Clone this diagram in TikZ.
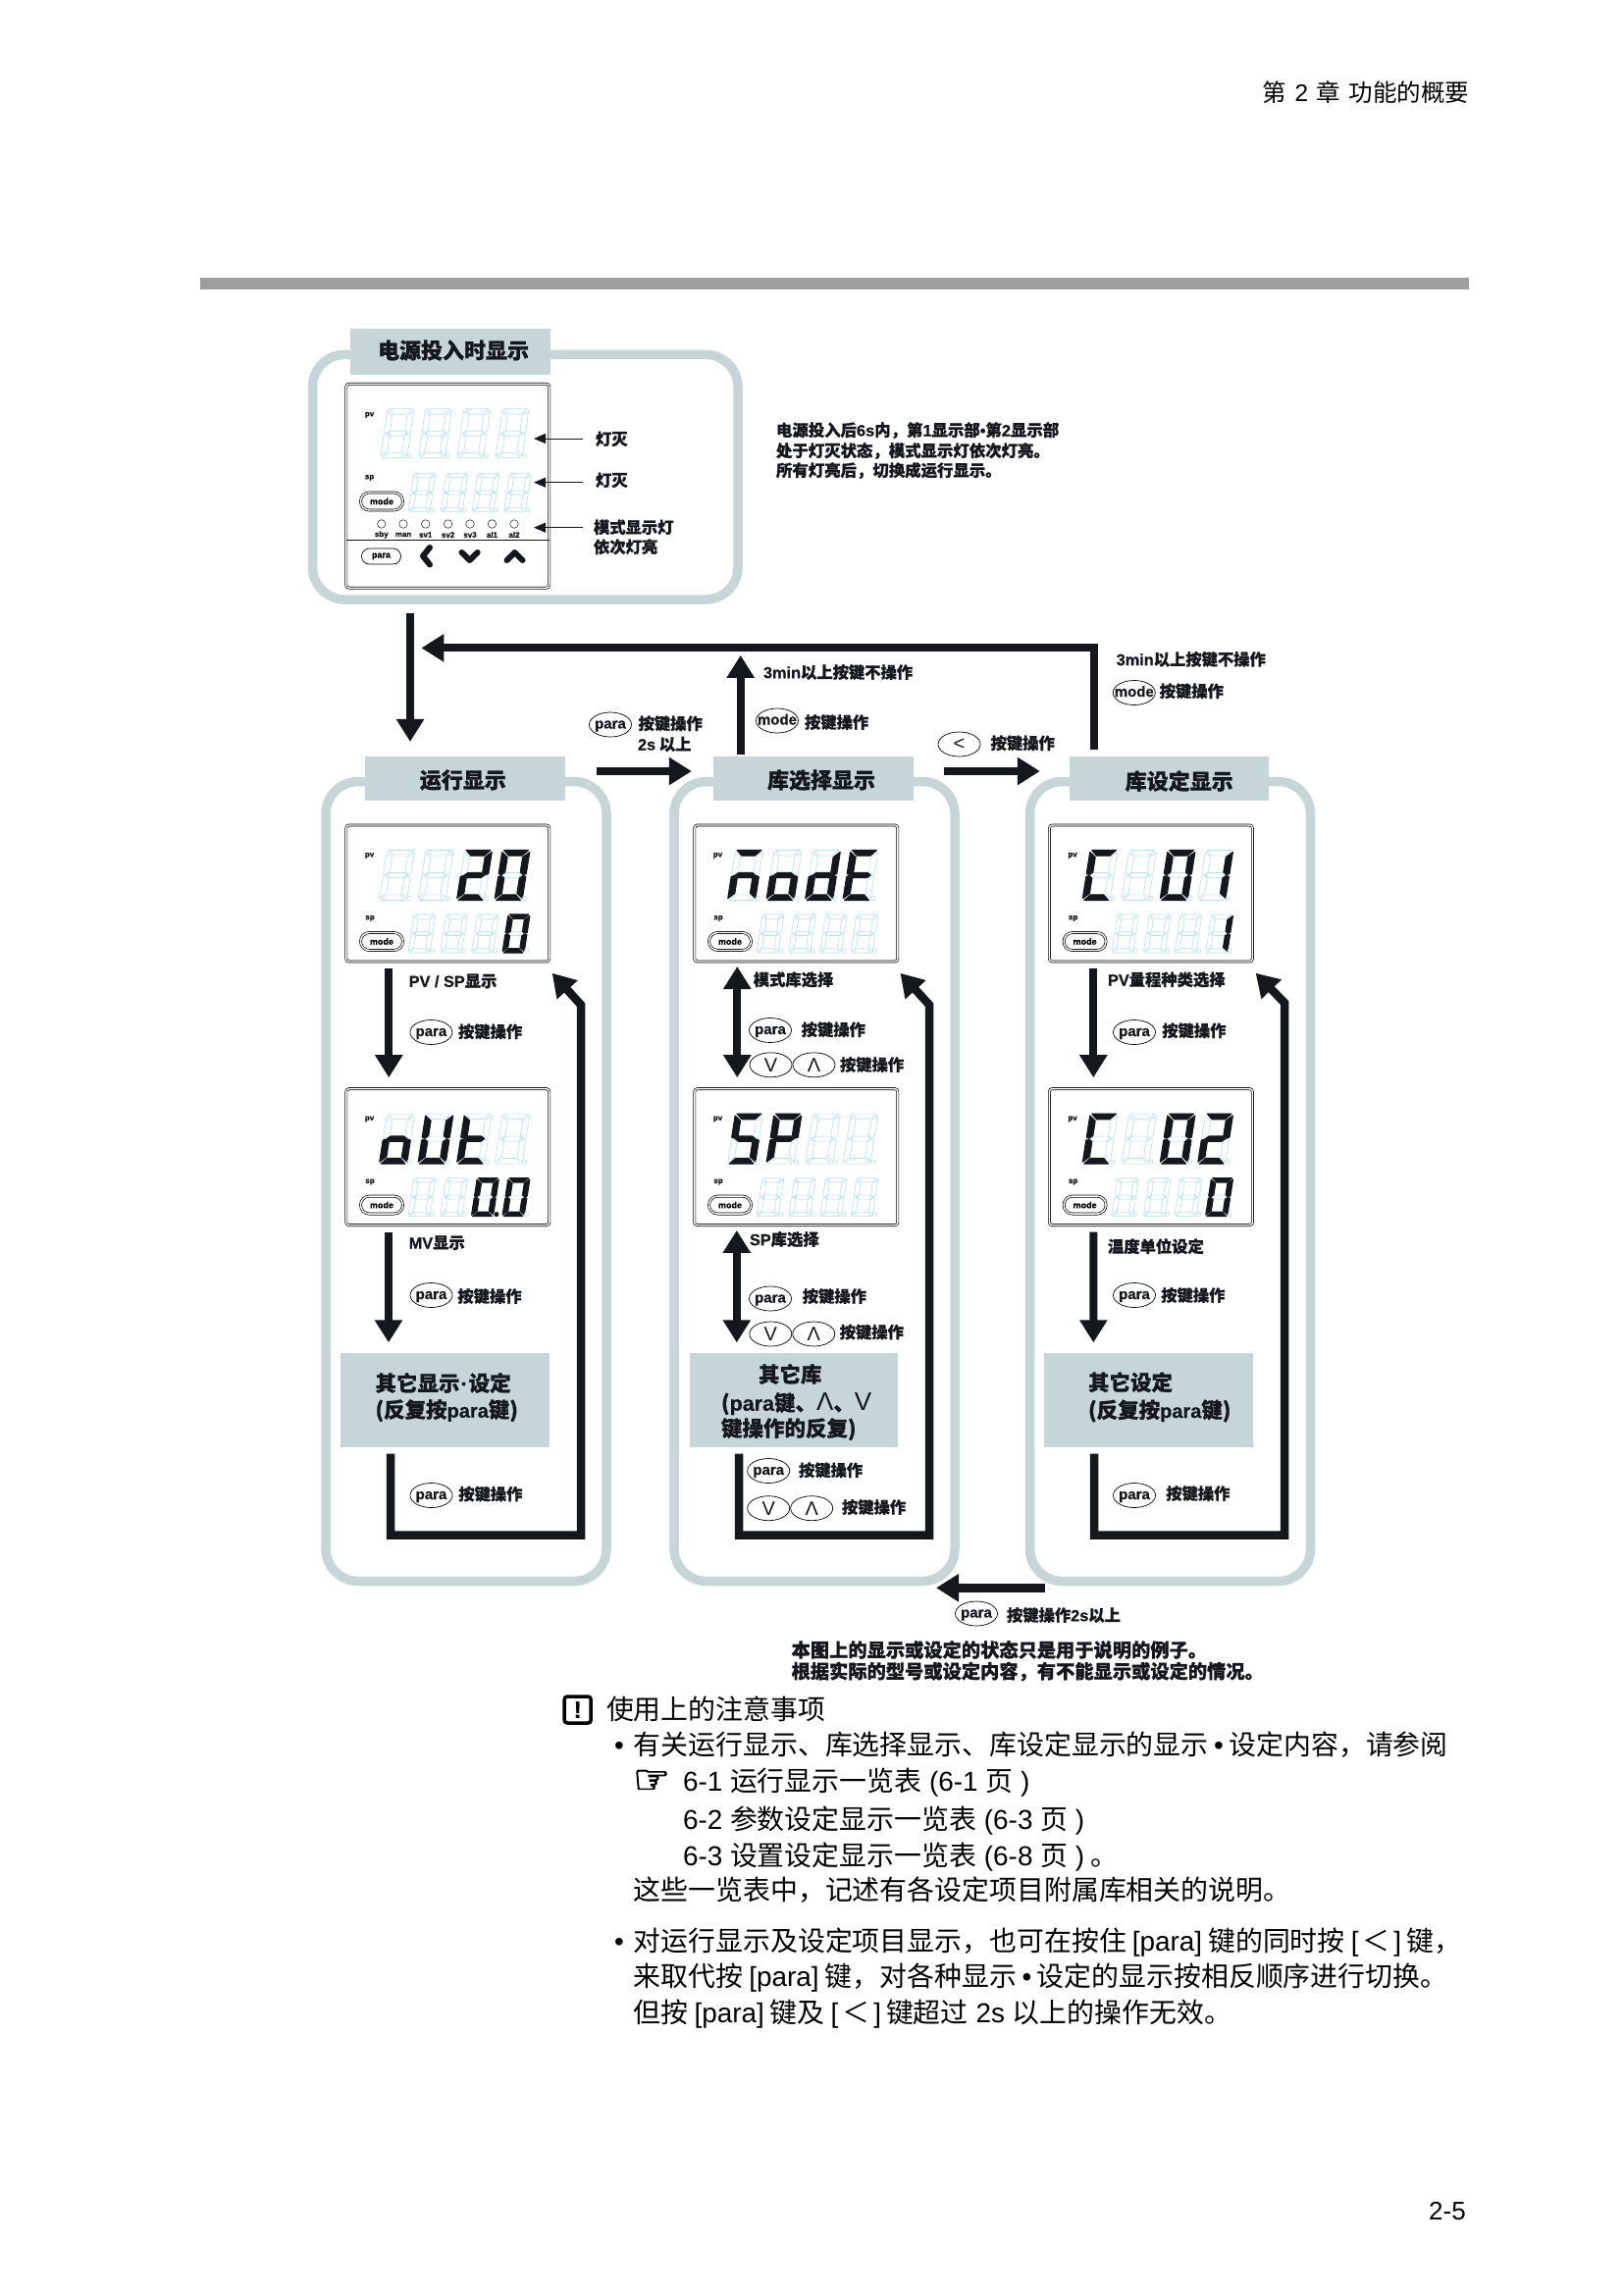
\documentclass[tikz,border=0pt]{standalone}
\usepackage{fontspec}
\usetikzlibrary{arrows.meta,shapes.geometric}
\setmainfont{Noto Sans CJK SC}[BoldFeatures={FakeBold=0.8}]
\newfontfamily\latn{Liberation Sans}[BoldFeatures={FakeBold=0.6}]
\newfontfamily\dejav{DejaVu Sans}[FakeBold=2.5]
\definecolor{band}{HTML}{C5D5D8}
\definecolor{ghostc}{HTML}{B4E2E8}
\definecolor{ink}{HTML}{14181C}
\definecolor{rule}{HTML}{9E9E9E}
\newcommand\fs[1]{\fontsize{#1}{#1}\selectfont}
\newcounter{nn}
\tikzset{
  x=1pt,y=-1pt,
  ghost/.style={draw=ghostc,line width=.6pt,fill=white},
  lit/.style={fill=ink,draw=ink,line width=1.2pt,line join=round},
  lab/.style={anchor=west,inner sep=0,outer sep=0,font=\bfseries\fs{16.3},text=ink,text height=14pt,text depth=3pt},
  midlab/.style={anchor=center,inner sep=0,outer sep=0,font=\bfseries\fs{22},text=ink},
  boxlab/.style={anchor=west,inner sep=0,outer sep=0,font=\bfseries\fs{21.5},text=ink,text height=18pt,text depth=4pt},
  bodyt/.style={anchor=west,inner sep=0,outer sep=0,font=\fs{27.9},text=black,text height=24pt,text depth=5pt},
  frameb/.style={draw=band,line width=9.5pt,rounded corners=33pt,inner sep=0,outer sep=0},
  titleb/.style={fill=band,inner sep=0,outer sep=0},
  dispb/.style={draw=black,line width=.7pt,double,double distance=1.4pt,rounded corners=3pt,inner sep=0,outer sep=0,minimum width=207,minimum height=139},
  modeb/.style={draw=black,line width=.7pt,double,double distance=1.4pt,rounded corners=9pt,inner sep=0,outer sep=0,minimum width=43,minimum height=18,font=\bfseries\latn\fs{9}},
  btn/.style={ellipse,draw=black,line width=.7pt,fill=white,inner xsep=-8pt,inner ysep=-3pt,outer sep=0,minimum width=43,minimum height=25,font=\bfseries\latn\fs{15},text=ink,text height=8pt,text depth=0pt},
  thinbtn/.style={ellipse,draw=black,line width=.7pt,fill=white,inner sep=-3pt,outer sep=0,minimum width=43,minimum height=25,font=\latn\fs{20},text=ink},
  tiny/.style={inner sep=0,outer sep=0,font=\bfseries\latn\fs{8},text=ink},
  bigarrow/.style={draw=ink,line width=8pt,-{Triangle[width=27pt,length=23pt]},line join=miter},
  bothway/.style={draw=ink,line width=8pt,{Triangle[width=27pt,length=23pt]}-{Triangle[width=27pt,length=23pt]}},
  thinarrow/.style={draw=ink,line width=1pt,-{Triangle[width=10pt,length=12pt]}},
}
\def\sgA#1{\path[#1] (.06,1)--(.94,1)--(.74,.89)--(.26,.89)--cycle;}
\def\sgD#1{\path[#1] (.06,0)--(.94,0)--(.74,.11)--(.26,.11)--cycle;}
\def\sgF#1{\path[#1] (0,.96)--(.22,.86)--(.22,.56)--(.1,.51)--(0,.53)--cycle;}
\def\sgB#1{\path[#1] (1,.96)--(.78,.86)--(.78,.56)--(.9,.51)--(1,.53)--cycle;}
\def\sgE#1{\path[#1] (0,.04)--(.22,.14)--(.22,.44)--(.1,.49)--(0,.47)--cycle;}
\def\sgC#1{\path[#1] (1,.04)--(.78,.14)--(.78,.44)--(.9,.49)--(1,.47)--cycle;}
\def\sgG#1{\path[#1] (.14,.5)--(.26,.55)--(.74,.55)--(.86,.5)--(.74,.45)--(.26,.45)--cycle;}
\def\sgN#1{}
\def\dOff{N}
\def\dZero{A,B,C,D,E,F}
\def\dOne{B,C}
\def\dTwo{A,B,G,E,D}
\def\dLo{G,C,D,E}
\def\dU{B,C,D,E,F}
\def\dT{F,G,E,D}
\def\dM{A,E,C,G}
\def\dd{B,C,D,E,G}
\def\dEe{A,F,G,E,D}
\def\dS{A,F,G,C,D}
\def\dP{A,B,F,G,E}
\def\dCc{A,F,E,D}
% one digit: x, top y, width, height, slant, lit segments
\newcommand\dgt[6]{%
  \begin{scope}[shift={(#1,#2+#4)},x={(#3pt,0pt)},y={(#5pt,#4pt)}]
    \foreach \s in {A,B,C,D,E,F,G}{\csname sg\s\endcsname{ghost}}
    \foreach \s in #6{\csname sg\s\endcsname{lit}}
  \end{scope}
  \draw[draw=ghostc,line width=.6pt] (#1+#3+2.5,#2+#4-2) circle[radius=2.2pt];
}
\newcommand\uprow[4]{%
  \dgt{386.5}{866.5}{28}{51}{8}{#1}\dgt{426}{866.5}{28}{51}{8}{#2}%
  \dgt{465.5}{866.5}{28}{51}{8}{#3}\dgt{504}{866.5}{28}{51}{8}{#4}}
\newcommand\lowrow[4]{%
  \dgt{416}{932}{22}{39}{6}{#1}\dgt{448.6}{932}{22}{39}{6}{#2}%
  \dgt{480.4}{932}{22}{39}{6}{#3}\dgt{512}{932}{22}{39}{6}{#4}}
\newcommand\dispbox[1]{%
  \node[dispb] (#1) at (456.3,910.5) {};
  \node[tiny] (#1pv) at (376.5,872) {pv};
  \node[tiny] (#1sp) at (377,936) {sp};
  \node[modeb] (#1m) at (389,959.5) {mode};
}
\newcommand\lab[3]{\stepcounter{nn}\node[lab] (lab\arabic{nn}) at (#1,#2) {#3};}
\newcommand\btn[3]{\stepcounter{nn}\node[btn] (btn\arabic{nn}) at (#1,#2) {#3};}
\newcommand\va[2]{\stepcounter{nn}\node[thinbtn] (vb\arabic{nn}) at (#1,#2) {V};\node[thinbtn] (ab\arabic{nn}) at (#1+44,#2) {Λ};}
\newcommand\bodyl[3]{\stepcounter{nn}\node[bodyt] (body\arabic{nn}) at (#1,#2) {#3};}
\newcommand\blab[3]{\stepcounter{nn}\node[boxlab] (blab\arabic{nn}) at (#1,#2) {#3};}
\newcommand\tpara{\hspace{6pt}{\latn[para]}\hspace{6pt}}
\newcommand\tlt{\hspace{6pt}{\latn[}\hspace{4pt}＜\hspace{4pt}{\latn]}\hspace{5pt}}
\begin{document}
\begin{tikzpicture}
\useasboundingbox (0,0) rectangle (1654,2339);
\fill[white] (0,0) rectangle (1654,2339);
% header
\node[anchor=west,inner sep=0,font=\fs{24.5},text=black] (hdr) at (1286,94) {第\hspace{9pt}{\latn 2}\hspace{8pt}章\hspace{9pt}功能的概要};
\node[fill=rule,inner sep=0,outer sep=0,minimum width=1293,minimum height=12] (bar) at (850.5,289) {};
\node[anchor=east,inner sep=0,font=\latn\fs{26},text=black] (pg) at (1494,2254) {2-5};
% frames
\node[frameb,minimum width=433.5,minimum height=249.7] (f0) at (535.25,486.2) {};
\node[frameb,minimum width=286,minimum height=815] (f1) at (475,1204) {};
\node[frameb,minimum width=286,minimum height=815] (f2) at (830,1204) {};
\node[frameb,minimum width=286,minimum height=815] (f3) at (1192.5,1204) {};
\node[titleb,minimum width=204,minimum height=46.7] (t0) at (459,358.3) {};
\node[midlab] (t0l) at (462,357) {电源投入时显示};
\node[titleb,minimum width=204,minimum height=45] (t1) at (473.9,793.85) {};
\node[midlab] (t1l) at (471.8,795) {运行显示};
\node[titleb,minimum width=204,minimum height=45] (t2) at (829.15,793.85) {};
\node[midlab] (t2l) at (837,795) {库选择显示};
\node[titleb,minimum width=203,minimum height=45] (t3) at (1191.35,793.85) {};
\node[midlab] (t3l) at (1201.7,796) {库设定显示};
\node[titleb,minimum width=213.2,minimum height=96] (g1) at (453.4,1427) {};
\node[titleb,minimum width=212.4,minimum height=96] (g2) at (808.8,1427) {};
\node[titleb,minimum width=212.7,minimum height=96] (g3) at (1170.35,1427) {};
\blab{382.5}{1410.7}{其它显示\hspace{1pt}{\latn·}\hspace{1pt}设定}
\blab{382.5}{1437.7}{(反复按{\latn\fs{20}para}键)}
\blab{773}{1401.7}{其它库}
\blab{735}{1430.7}{({\latn para}键、{\latn\mdseries\fs{26}Λ}、{\latn\mdseries\fs{26}V}}
\blab{735}{1456.7}{键操作的反复)}
\blab{1109}{1410}{其它设定}
\blab{1109}{1438}{(反复按{\latn\fs{20}para}键)}
% power-on panel
\node[dispb,minimum height=208] (p0) at (456.3,495.2) {};
\node[tiny] (p0pv) at (376.5,423) {pv};
\node[tiny] (p0sp) at (376.5,487) {sp};
\node[modeb] (p0m) at (389,511) {mode};
\foreach \xx in {387.8,426.5,465.8,505}{\dgt{\xx}{416.7}{27}{50}{7}{\dOff}}
\foreach \xx in {416,449,481,513.3}{\dgt{\xx}{482.3}{22}{39.4}{6}{\dOff}}
\foreach \xx/\tt [count=\i] in {388.8/sby,411/man,433.7/sv1,456.6/sv2,479/sv3,501.5/al1,524/al2}{
  \node[circle,draw=ink,line width=.5pt,minimum size=8.5pt,inner sep=0] (led\i) at (\xx,534) {};
  \node[tiny] (ledt\i) at (\xx,545) {\tt};
}
\node[fill=ink,inner sep=0,outer sep=0,minimum width=207,minimum height=1] (p0line) at (456.3,550) {};
\node[modeb,double=none,rounded corners=8pt,minimum width=40,minimum height=16] (p0para) at (388.5,567) {para};
\draw[ink,line width=6pt,line join=round,line cap=round] (438,558) -- (431,566.7) -- (438,575.5);
\draw[ink,line width=6pt,line join=round,line cap=round] (470.5,563) -- (478.6,571) -- (486.7,563);
\draw[ink,line width=6pt,line join=round,line cap=round] (516.5,571) -- (524.5,563) -- (532.5,571);
\coordinate (ta) at (594.4,447); \coordinate (tb) at (544,447);
\coordinate (tc) at (594.4,491.7); \coordinate (td) at (544,491.7);
\coordinate (te) at (594.4,537.7); \coordinate (tf) at (544,537.7);
\draw[thinarrow] (ta) -- (tb);
\draw[thinarrow] (tc) -- (td);
\draw[thinarrow] (te) -- (tf);
\lab{607}{448}{灯灭}
\lab{607}{490}{灯灭}
\lab{605}{538}{模式显示灯}
\lab{605}{558}{依次灯亮}
\node[lab,font=\bfseries\fs{16.4}] (rt1) at (791,439) {电源投入后{\latn 6s}内，第{\latn 1}显示部{\latn•}第{\latn 2}显示部};
\node[lab,font=\bfseries\fs{16.4}] (rt2) at (791,460) {处于灯灭状态，模式显示灯依次灯亮。};
\node[lab,font=\bfseries\fs{16.4}] (rt3) at (791,480) {所有灯亮后，切换成运行显示。};
% displays
\begin{scope}
\dispbox{p11}\uprow{\dOff}{\dOff}{\dTwo}{\dZero}\lowrow{\dOff}{\dOff}{\dOff}{\dZero}
\end{scope}
\begin{scope}[yshift=-268.6pt]
\dispbox{p12}\uprow{\dLo}{\dU}{\dT}{\dOff}\lowrow{\dOff}{\dOff}{\dZero}{\dZero}
\fill[ink] (506,969) circle[radius=2.5pt];
\end{scope}
\begin{scope}[xshift=355pt]
\dispbox{p21}\uprow{\dM}{\dLo}{\dd}{\dEe}\lowrow{\dOff}{\dOff}{\dOff}{\dOff}
\end{scope}
\begin{scope}[xshift=355pt,yshift=-268.6pt]
\dispbox{p22}\uprow{\dS}{\dP}{\dOff}{\dOff}\lowrow{\dOff}{\dOff}{\dOff}{\dOff}
\end{scope}
\begin{scope}[xshift=716.6pt]
\dispbox{p31}\uprow{\dCc}{\dOff}{\dZero}{\dOne}\lowrow{\dOff}{\dOff}{\dOff}{\dOne}
\end{scope}
\begin{scope}[xshift=716.6pt,yshift=-268.6pt]
\dispbox{p32}\uprow{\dCc}{\dOff}{\dZero}{\dTwo}\lowrow{\dOff}{\dOff}{\dOff}{\dZero}
\end{scope}
% connectors
\draw[bigarrow] ([shift={(-117.25,14)}]f0.south) -- ([shift={(-55.9,-15.4)}]t1.north);
\coordinate (retEnd) at (429.4,660.4);
\coordinate (retCorner) at (1115,660.4);
\draw[bigarrow] ([shift={(-76.35,-6.9)}]t3.north) -- (retCorner) -- (retEnd);
\coordinate (upEnd) at (754.7,667.8);
\draw[bigarrow] ([shift={(-74.45,-2.8)}]t2.north) -- (upEnd);
\draw[bigarrow] ([shift={(32,-7.85)}]t1.east) -- ([shift={(-22.3,-7.85)}]t2.west);
\draw[bigarrow] ([shift={(31,-7.85)}]t2.east) -- ([shift={(-30,-7.85)}]t3.west);
\draw[bigarrow] ([shift={(-60,7)}]p11.south) -- ([shift={(-60,-11.4)}]p12.north);
\draw[bigarrow] ([shift={(-60.3,7)}]p12.south) -- ([shift={(-57.4,-10.7)}]g1.north);
\coordinate (r1a) at (592,1564.7); \coordinate (r1b) at (592,1024);
\draw[bigarrow,line width=8.5pt] ([shift={(-55.4,6.7)}]g1.south) |- (r1a) -- (r1b) -- ([shift={(2.9,11.8)}]p11.south east);
\draw[bothway] ([shift={(-60,5)}]p21.south) -- ([shift={(-60,-11.4)}]p22.north);
\draw[bothway] ([shift={(-60.5,5.3)}]p22.south) -- ([shift={(-58,-10.7)}]g2.north);
\coordinate (r2a) at (947,1564.7); \coordinate (r2b) at (947,1024);
\draw[bigarrow,line width=8.5pt] ([shift={(-55.8,6.7)}]g2.south) |- (r2a) -- (r2b) -- ([shift={(2.7,11.8)}]p21.south east);
\draw[bigarrow] ([shift={(-58.6,7)}]p31.south) -- ([shift={(-58.6,-11.4)}]p32.north);
\draw[bigarrow] ([shift={(-58.6,7)}]p32.south) -- ([shift={(-56,-10.7)}]g3.north);
\coordinate (r3a) at (1309,1564.7); \coordinate (r3b) at (1309,1022);
\draw[bigarrow,line width=8.5pt] ([shift={(-55.35,6.7)}]g3.south) |- (r3a) -- (r3b) -- ([shift={(3.3,11.8)}]p31.south east);
\draw[bigarrow,line width=9pt] ([shift={(15.5,6.8)}]f3.south west) -- ([shift={(-19,6.8)}]f2.south east);
% top labels
\btn{622}{738.5}{para}
\lab{650.6}{738}{按键操作}
\lab{650}{759}{{\latn 2s} 以上}
\lab{778}{685.7}{{\latn 3min}以上按键不操作}
\btn{792}{734.5}{mode}
\lab{820}{736.7}{按键操作}
\node[thinbtn] (ltb) at (977.5,758.5) {<};
\lab{1009.6}{758}{按键操作}
\lab{1137.7}{672.6}{{\latn 3min}以上按键不操作}
\btn{1155.8}{706}{mode}
\lab{1181.7}{705}{按键操作}
% column 1 labels
\lab{416.7}{1000.4}{{\latn PV / SP}显示}
\btn{439.4}{1052}{para}
\lab{467}{1052}{按键操作}
\lab{416.7}{1267}{{\latn MV}显示}
\btn{439.5}{1320}{para}
\lab{466.4}{1321.7}{按键操作}
\btn{439.5}{1524}{para}
\lab{467.3}{1523.3}{按键操作}
% column 2 labels
\lab{767.8}{999}{模式库选择}
\btn{785}{1050}{para}
\lab{816.7}{1050}{按键操作}
\va{785.5}{1085.3}
\lab{856}{1085.7}{按键操作}
\lab{764}{1263.7}{{\latn SP}库选择}
\btn{785}{1323.5}{para}
\lab{817.8}{1321.7}{按键操作}
\va{785.3}{1359.5}
\lab{855.7}{1358.3}{按键操作}
\btn{783.2}{1499}{para}
\lab{814}{1499}{按键操作}
\va{783.2}{1537.2}
\lab{858}{1536.7}{按键操作}
% column 3 labels
\lab{1129}{999}{{\latn PV}量程种类选择}
\btn{1156}{1052}{para}
\lab{1184.3}{1051}{按键操作}
\lab{1129}{1271}{温度单位设定}
\btn{1156}{1320}{para}
\lab{1183.3}{1320.7}{按键操作}
\btn{1156}{1524}{para}
\lab{1188.3}{1522.7}{按键操作}
% bottom labels
\btn{995}{1644.5}{para}
\lab{1026}{1646.7}{按键操作{\latn 2s}以上}
\node[lab,font=\bfseries\fs{19.25}] (note1) at (806.6,1683.3) {本图上的显示或设定的状态只是用于说明的例子。};
\node[lab,font=\bfseries\fs{19.25}] (note2) at (806.6,1705) {根据实际的型号或设定内容，有不能显示或设定的情况。};
% notes
\node[draw=black,line width=3.5pt,rounded corners=3pt,inner sep=0,minimum width=27,minimum height=27,font=\bfseries\latn\fs{24}] (warn) at (588.7,1742.5) {!};
\bodyl{618}{1743}{使用上的注意事项}
\bodyl{626}{1779}{{\latn •}}
\bodyl{645.7}{1779}{有关运行显示、库选择显示、库设定显示的显示{\latn\hspace{.2em}•\hspace{.2em}}设定内容，请参阅}
\node[anchor=west,inner sep=0,font=\dejav\fs{42},text=black] (hand) at (645,1816) {☞};
\bodyl{696}{1816}{{\latn 6-1 }运行显示一览表{\latn\ (6-1 }页{\latn\ )}}
\bodyl{696}{1855}{{\latn 6-2 }参数设定显示一览表{\latn\ (6-3 }页{\latn\ )}}
\bodyl{696}{1891.7}{{\latn 6-3 }设置设定显示一览表{\latn\ (6-8 }页{\latn\ )} 。}
\bodyl{645.7}{1926.7}{这些一览表中，记述有各设定项目附属库相关的说明。}
\bodyl{626}{1979.3}{{\latn •}}
\bodyl{645.7}{1979.3}{对运行显示及设定项目显示，也可在按住\tpara 键的同时按\tlt 键，}
\bodyl{645.7}{2015}{来取代按\tpara 键，对各种显示{\latn\hspace{.2em}•\hspace{.2em}}设定的显示按相反顺序进行切换。}
\bodyl{645.7}{2051.7}{但按\tpara 键及\tlt 键超过{\latn\ 2s\ }以上的操作无效。}
\end{tikzpicture}
\end{document}
